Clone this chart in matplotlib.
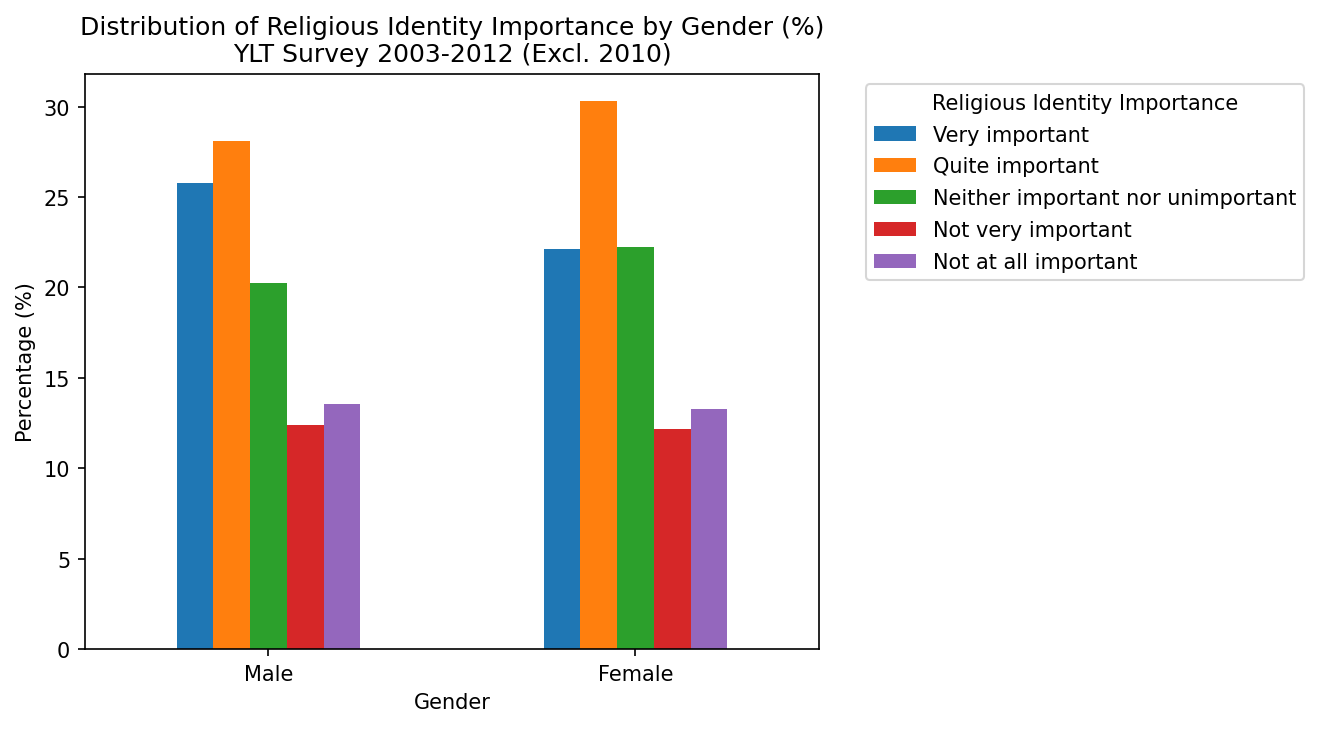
import numpy as np
import matplotlib
matplotlib.use("Agg")
import matplotlib.pyplot as plt

# values (%)
genders = ["Male", "Female"]
categories = ["Very important", "Quite important", "Neither important nor unimportant",
              "Not very important", "Not at all important"]
very_important = [25.76, 22.12]
quite_important = [28.09, 30.29]
neither = [20.26, 22.23]
not_very = [12.39, 12.17]
not_at_all = [13.57, 13.26]

series = [very_important, quite_important, neither, not_very, not_at_all]
colors = ["#1f77b4", "#ff7f0e", "#2ca02c", "#d62728", "#9467bd"]

dpi = 150
fig = plt.figure(figsize=(1319 / dpi, 730 / dpi), dpi=dpi)
ax = fig.add_axes([0.0644, 0.1096, 0.5565, 0.7877])

x = np.arange(len(genders))
width = 0.5 / len(series)
for i, (vals, label) in enumerate(zip(series, categories)):
    offset = (i - (len(series) - 1) / 2) * width
    ax.bar(x + offset, vals, width, label=label, color=colors[i])

ax.set_xlim(-0.5, len(genders) - 0.5)
ax.set_xticks(x)
ax.set_xticklabels(genders, rotation=0)
ax.set_xlabel("Gender")
ax.set_ylabel("Percentage (%)")
ax.set_title("Distribution of Religious Identity Importance by Gender (%)\nYLT Survey 2003-2012 (Excl. 2010)")
ax.legend(title="Religious Identity Importance", bbox_to_anchor=(1.05, 1), loc="upper left",
          labelspacing=0.57)

fig.savefig("out.png", dpi=dpi)
